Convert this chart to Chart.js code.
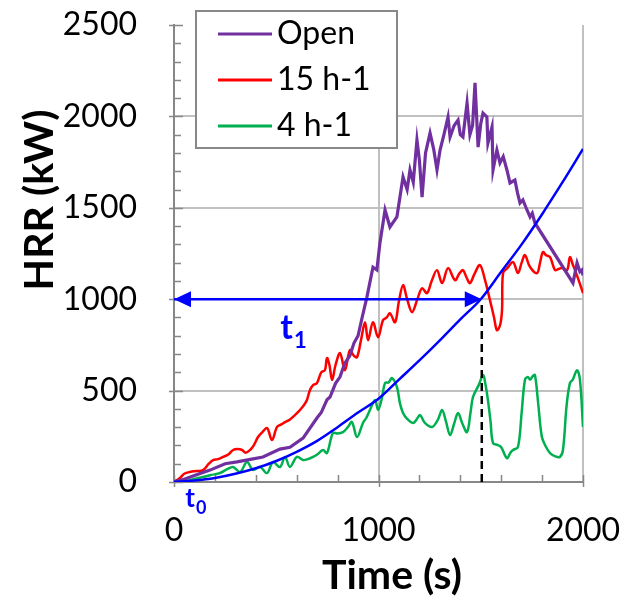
<!DOCTYPE html>
<html>
<head>
<meta charset="utf-8">
<script src="https://cdn.jsdelivr.net/npm/chart.js@4.4.1/dist/chart.umd.min.js"></script>
<style>
  html, body { margin: 0; padding: 0; background: #fff; }
  #hrrChart { display: block; }
</style>
</head>
<body>
<canvas id="hrrChart" width="625" height="596"></canvas>
<script>
// series (time in s, HRR in kW)
var openTime = [0, 50, 100, 176, 250, 308, 380, 435, 518, 567, 631, 699, 720, 748, 763, 790, 812, 835, 860, 880, 900, 920, 943, 973, 992,
  1007, 1032, 1056, 1090, 1120, 1140, 1154, 1170, 1188, 1200, 1213, 1230, 1252, 1270, 1286, 1301, 1320, 1340, 1350, 1370,
  1389, 1400, 1413, 1433, 1447, 1460, 1472, 1487, 1500, 1511, 1530, 1535, 1555, 1560, 1579, 1594, 1610, 1628, 1643, 1667,
  1680, 1692, 1706, 1726, 1741, 1752, 1765, 1951, 1971, 1985, 1995, 2000]
var openHrr = [0, 15, 35, 65, 100, 110, 125, 137, 180, 190, 240, 350, 380, 450, 465, 540, 575, 650, 690, 760, 800, 900, 1010, 1175, 1160,
  1307, 1488, 1395, 1450, 1669, 1600, 1707, 1640, 1871, 1760, 1559, 1800, 1909, 1820, 1707, 1816, 1900, 1997, 1887, 1950,
  1980, 1900, 1887, 2073, 1900, 1950, 2183, 1832, 1960, 2018, 1997, 1854, 1942, 1707, 1816, 1745, 1780, 1707, 1636, 1652,
  1580, 1526, 1543, 1488, 1450, 1470, 1417, 1089, 1198, 1150, 1160, 1130]

var ach15Time = [0, 29, 50, 78, 110, 142, 170, 191, 215, 240, 265, 289, 310, 333, 350, 372, 390, 411, 430, 455,
  479, 504, 525, 543, 565, 582, 600, 616, 635, 650, 665, 680, 699, 720, 738, 748, 760, 773, 790, 812,
  836, 860, 880, 895, 915, 934, 949, 973, 998, 1022, 1040, 1056, 1081, 1100, 1120, 1140, 1164, 1190, 1213, 1237,
  1260, 1286, 1311, 1340, 1374, 1395, 1413, 1430, 1447, 1470, 1496, 1521, 1545, 1565, 1579, 1595, 1604, 1609, 1630, 1658,
  1682, 1700, 1716, 1741, 1775, 1790, 1804, 1820, 1839, 1863, 1880, 1897, 1922, 1936, 1950, 1961, 1980, 2000]
var ach15Hrr = [0, 22, 45, 55, 60, 65, 100, 120, 125, 137, 150, 175, 180, 175, 160, 175, 200, 246, 270, 295,
  230, 301, 315, 328, 340, 356, 375, 394, 420, 449, 503, 530, 541, 600, 612, 678, 640, 558, 640, 705,
  612, 721, 690, 683, 780, 874, 776, 874, 792, 885, 900, 923, 874, 990, 1077, 1000, 929, 1000, 1060, 1033,
  1100, 1159, 1088, 1170, 1104, 1140, 1159, 1120, 1088, 1140, 1187, 1104, 995, 900, 831, 860, 940, 1143, 1170, 1203,
  1143, 1200, 1241, 1176, 1143, 1200, 1258, 1240, 1230, 1159, 1165, 1170, 1159, 1230, 1190, 1159, 1100, 1033]

var ach4Time = [0, 40, 78, 110, 142, 180, 225, 260, 289, 323, 357, 386, 421, 455, 484, 518, 543, 567, 601, 631,
  655, 680, 700, 729, 748, 777, 800, 826, 850, 870, 895, 924, 940, 958, 983, 998, 1015, 1032, 1050, 1066,
  1090, 1105, 1120, 1140, 1169, 1185, 1203, 1227, 1262, 1290, 1311, 1330, 1350, 1370, 1389, 1410, 1433, 1450, 1462, 1490,
  1511, 1522, 1535, 1548, 1560, 1584, 1600, 1628, 1645, 1658, 1682, 1700, 1716, 1730, 1741, 1755, 1765, 1780, 1799, 1820,
  1839, 1865, 1887, 1902, 1920, 1936, 1950, 1971, 1985, 2000]
var ach4Hrr = [0, 3, 10, 20, 27, 38, 49, 70, 82, 55, 109, 66, 82, 49, 109, 82, 137, 82, 137, 120,
  125, 137, 150, 175, 158, 268, 265, 273, 300, 328, 246, 323, 350, 394, 449, 394, 450, 541, 545, 568,
  520, 430, 377, 345, 323, 340, 366, 323, 301, 340, 394, 330, 257, 320, 377, 320, 273, 380, 465, 530,
  585, 540, 449, 330, 213, 202, 190, 131, 160, 175, 191, 380, 558, 575, 560, 580, 585, 440, 246, 190,
  158, 140, 137, 175, 420, 541, 560, 612, 560, 301]

// t-squared design fire curve
var tsqTime = [0, 100, 200, 300, 400, 500, 600, 700, 800, 900, 1000, 1100, 1200, 1300, 1400, 1500, 1600, 1700, 1800, 1900, 2000]
var tsqHrr = [0, 8, 22, 45, 75, 115, 165, 225, 300, 380, 455, 560, 665, 775, 890, 1000, 1150, 1300, 1465, 1640, 1822]

// t1 marker: horizontal arrow at 1000 kW up to the crossing time
var t1Level = 1000
var t1Time = 1505

var seriesNames = ['Open', '15 h-1', '4 h-1']
var seriesColors = ['#7030A0', '#FF0000', '#00B050']
var tsqColor = '#0000FF'

var yTickStep = 500, yMinorStep = 100, yMax = 2500
var xTickStep = 1000, xMinorStep = 200, xMax = 2000

function toPoints(xs, ys) {
  return xs.map(function (x, i) { return { x: x, y: ys[i] } })
}

Chart.defaults.font.family = 'Lato'
Chart.defaults.color = '#000'

var decor = {
  id: 'decor',
  beforeDatasetsDraw: function (chart) {
    var ctx = chart.ctx, xs = chart.scales.x, ys = chart.scales.y, a = chart.chartArea
    ctx.save()
    ctx.strokeStyle = '#878787'
    ctx.lineWidth = 1.5
    ctx.beginPath()
    for (var v = 0; v <= yMax; v += yMinorStep) {
      var py = Math.round(ys.getPixelForValue(v)) + 0.5
      var major = v % yTickStep === 0
      ctx.moveTo(a.left - (major ? 5 : 0), py)
      ctx.lineTo(a.left + (major ? 9 : 7), py)
    }
    for (var u = 0; u <= xMax; u += xMinorStep) {
      var px = Math.round(xs.getPixelForValue(u)) + 0.5
      ctx.moveTo(px, a.bottom + (u % xTickStep === 0 ? 5 : 0))
      ctx.lineTo(px, a.bottom - 7)
    }
    ctx.stroke()
    ctx.restore()
  },
  afterDatasetsDraw: function (chart) {
    var ctx = chart.ctx, xs = chart.scales.x, ys = chart.scales.y
    ctx.save()

    // arrow heads
    var ay = ys.getPixelForValue(t1Level)
    var lx = xs.getPixelForValue(0), rx = xs.getPixelForValue(t1Time)
    ctx.fillStyle = tsqColor
    ctx.beginPath()
    ctx.moveTo(lx, ay); ctx.lineTo(lx + 17, ay - 8); ctx.lineTo(lx + 17, ay + 8); ctx.closePath()
    ctx.moveTo(rx, ay); ctx.lineTo(rx - 17, ay - 8); ctx.lineTo(rx - 17, ay + 8); ctx.closePath()
    ctx.fill()

    // t1 / t0 labels
    ctx.textAlign = 'left'
    ctx.textBaseline = 'alphabetic'
    ctx.font = 'bold 34px Lato'
    var tx = xs.getPixelForValue(520), ty = ys.getPixelForValue(780)
    ctx.fillText('t', tx, ty)
    var w = ctx.measureText('t').width
    ctx.font = 'bold 22px Lato'
    ctx.fillText('1', tx + w + 1, ty + 9)

    ctx.font = 'bold 26px Lato'
    tx = xs.getPixelForValue(55); ty = ys.getPixelForValue(-135)
    ctx.fillText('t', tx, ty)
    w = ctx.measureText('t').width
    ctx.font = 'bold 18px Lato'
    ctx.fillText('0', tx + w + 1, ty + 7)

    // legend box
    ctx.fillStyle = '#fff'
    ctx.strokeStyle = '#888'
    ctx.lineWidth = 2
    ctx.fillRect(196, 11, 201, 137)
    ctx.strokeRect(196, 11, 201, 137)
    ctx.font = '32px Lato'
    ctx.textBaseline = 'middle'
    for (var i = 0; i < seriesNames.length; i++) {
      var ly = 34 + i * 46
      ctx.strokeStyle = seriesColors[i]
      ctx.lineWidth = 3
      ctx.beginPath()
      ctx.moveTo(218, ly); ctx.lineTo(272, ly)
      ctx.stroke()
      ctx.fillStyle = '#000'
      ctx.fillText(seriesNames[i], 277, ly)
    }

    // axis titles
    ctx.font = 'bold 41px Lato'
    ctx.textAlign = 'center'
    ctx.fillText('Time (s)', 392, 576)
    ctx.translate(40, 200)
    ctx.rotate(-Math.PI / 2)
    ctx.fillText('HRR (kW)', 0, 0)
    ctx.restore()
  }
}

function plainTick(value) { return String(value) }

var ctx = document.getElementById('hrrChart')

new Chart(ctx, {
  type: 'line',
  data: {
    datasets: [
      { label: 't2', data: toPoints(tsqTime, tsqHrr), borderColor: tsqColor, borderWidth: 2.5, pointRadius: 0, cubicInterpolationMode: 'monotone', order: 0 },
      { label: 'arrow', data: [{ x: 0, y: t1Level }, { x: t1Time - 10, y: t1Level }], borderColor: tsqColor, borderWidth: 2.5, pointRadius: 0, order: 0 },
      { label: 'drop', data: [{ x: t1Time, y: 0 }, { x: t1Time, y: t1Level - 10 }], borderColor: '#000', borderWidth: 2.5, borderDash: [8, 5], pointRadius: 0, order: 1 },
      { label: seriesNames[0], data: toPoints(openTime, openHrr), borderColor: seriesColors[0], borderWidth: 3.2, pointRadius: 0, order: 2 },
      { label: seriesNames[1], data: toPoints(ach15Time, ach15Hrr), borderColor: seriesColors[1], borderWidth: 2.5, pointRadius: 0, tension: 0.35, order: 3 },
      { label: seriesNames[2], data: toPoints(ach4Time, ach4Hrr), borderColor: seriesColors[2], borderWidth: 2.5, pointRadius: 0, tension: 0.35, order: 4 }
    ]
  },
  options: {
    responsive: false,
    animation: false,
    layout: { padding: { top: 25, right: 42, left: 0, bottom: 0 } },
    plugins: { legend: { display: false }, tooltip: { enabled: false } },
    scales: {
      x: {
        type: 'linear', min: 0, max: xMax,
        afterFit: function (s) { s.height = 114; s.paddingLeft = 0; s.paddingRight = 0 },
        ticks: { stepSize: xTickStep, font: { size: 32 }, padding: 29, maxRotation: 0, callback: plainTick },
        grid: {
          drawTicks: false, lineWidth: 2,
          color: function (c) { return c.tick && c.tick.value > 0 ? '#C0C0C0' : 'rgba(0,0,0,0)' }
        },
        border: { color: '#878787', width: 2 }
      },
      y: {
        min: 0, max: yMax,
        afterFit: function (s) { s.width = 174; s.paddingTop = 0; s.paddingBottom = 0 },
        ticks: { stepSize: yTickStep, font: { size: 32 }, padding: 37, callback: plainTick },
        grid: {
          drawTicks: false, lineWidth: 2,
          color: function (c) { return c.tick && c.tick.value > 0 && c.tick.value < yMax ? '#C0C0C0' : 'rgba(0,0,0,0)' }
        },
        border: { color: '#878787', width: 2 }
      }
    }
  },
  plugins: [decor]
})
</script>
</body>
</html>
